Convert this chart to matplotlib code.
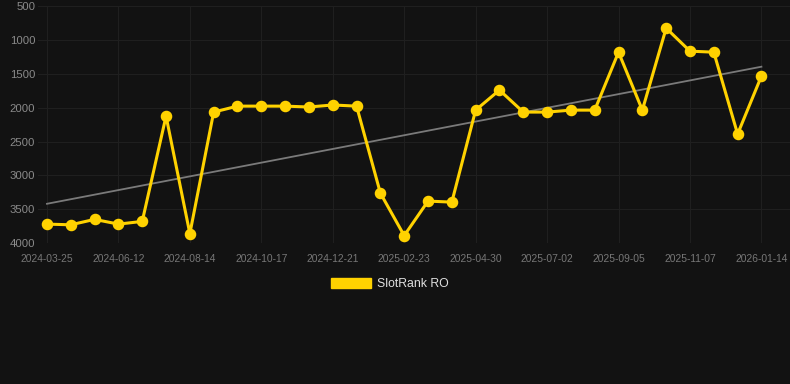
import matplotlib
matplotlib.use("Agg")
import matplotlib.pyplot as plt
from matplotlib.patches import Patch
import numpy as np

plt.rcParams['font.family'] = ['Liberation Sans', 'DejaVu Sans']

# rank per snapshot (lower = better)
ranks = [3720, 3730, 3650, 3720, 3680, 2125, 3860, 2065, 1977, 1977,
         1977, 1990, 1960, 1977, 3262, 3890, 3380, 3395, 2036, 1740,
         2065, 2065, 2036, 2036, 1180, 2036, 825, 1165, 1180, 2390, 1534]
tick_labels = ["2024-03-25", "2024-06-12", "2024-08-14", "2024-10-17",
               "2024-12-21", "2025-02-23", "2025-04-30", "2025-07-02",
               "2025-09-05", "2025-11-07", "2026-01-14"]
y_ticks = [500, 1000, 1500, 2000, 2500, 3000, 3500, 4000]

BG = "#121212"
YELLOW = "#FFD200"

x = np.arange(len(ranks))

fig = plt.figure(figsize=(7.9, 3.84), dpi=100, facecolor=BG)
ax = fig.add_axes([0.048, 0.367, 0.952, 0.617], facecolor=BG)

# trend line
k, b = np.polyfit(x, ranks, 1)
ax.plot(x, k * x + b, color="#7a7a7a", lw=1.3, zorder=2)

ax.plot(x, ranks, color=YELLOW, lw=2.2, marker="o", ms=7.3, zorder=3)

ax.set_xlim(-0.38, 31.2)
ax.set_ylim(4000, 500)
ax.set_yticks(y_ticks)
ax.set_yticklabels([str(v) for v in y_ticks])
ax.set_xticks(x[::3])
ax.set_xticklabels(tick_labels)

ax.grid(True, color="#1f1f1f", lw=0.8)
ax.set_axisbelow(True)
for s in ax.spines.values():
    s.set_visible(False)
ax.tick_params(axis="y", length=0, pad=2, labelsize=8.2, labelcolor="#8a8a8a")
ax.tick_params(axis="x", length=0, pad=8, labelsize=7.4, labelcolor="#777777")

fig.legend(handles=[Patch(color=YELLOW, label="SlotRank RO")],
           loc="center", bbox_to_anchor=(390 / 790, 1 - 284 / 384),
           frameon=False, fontsize=8.8, labelcolor="#e0e0e0",
           handlelength=3.3, handleheight=0.9, handletextpad=0.5)

fig.savefig("out.png", dpi=100, facecolor=BG)
